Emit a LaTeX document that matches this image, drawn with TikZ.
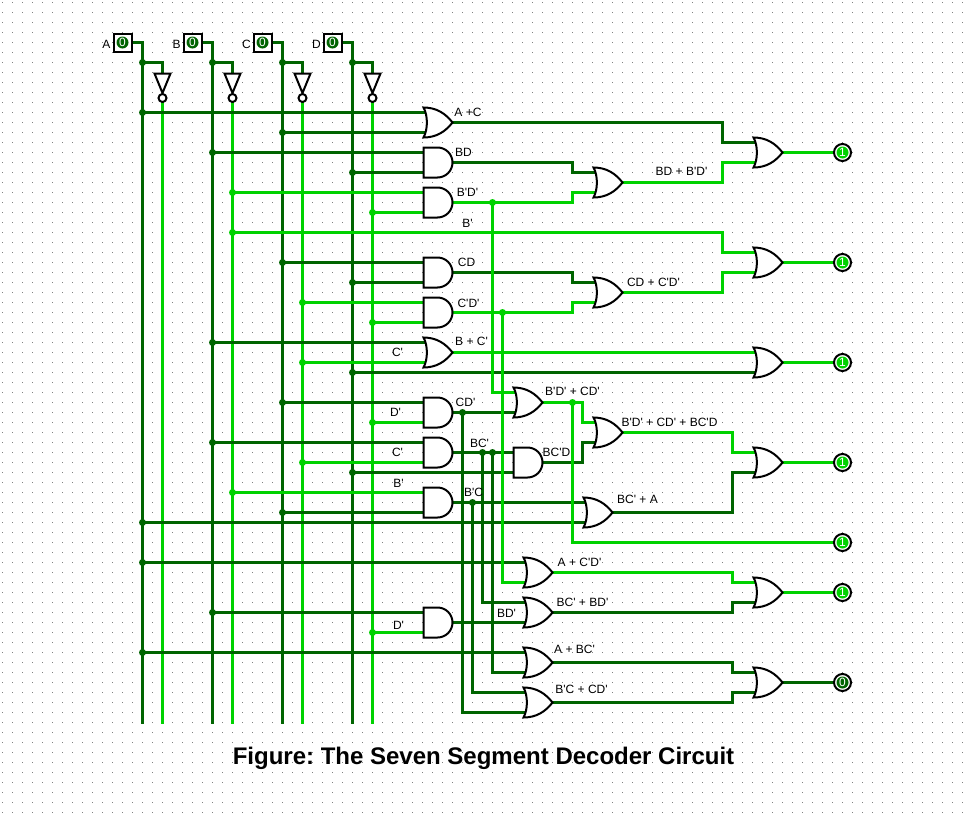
\documentclass[tikz,border=0pt]{standalone}
\usepackage{fontspec}
\usetikzlibrary{backgrounds}
\newfontfamily\logifont{Liberation Sans}
\definecolor{wirelow}{RGB}{0,100,0}
\definecolor{wirehigh}{RGB}{0,210,0}

\tikzset{
	lowwire/.style={color=wirelow,line width=3pt},
	highwire/.style={color=wirehigh,line width=3pt},
	gateline/.style={draw=black,fill=white,line width=2pt},
	gatebox/.style={rectangle,minimum width=30pt,minimum height=30pt,inner sep=0pt},
	lbl/.style={font=\logifont\fontsize{12}{14}\selectfont,inner sep=0pt,anchor=base},
	pinbox/.style={rectangle,draw=black,fill=white,line width=2pt,minimum size=18pt,inner sep=0pt},
	pinring/.style={circle,draw=black,fill=white,line width=2pt,minimum size=17pt,inner sep=0pt},
	pinval/.style={circle,fill=#1,text=white,minimum size=12pt,inner sep=0pt,font=\logifont\fontsize{12}{14}\selectfont}
}

% gates: name, x and y of the output
\newcommand{\gateand}[3]{
	\node[gatebox] (#1) at (#2-15,#3) {};
	\coordinate (#1a) at (#2-27,#3-10);
	\coordinate (#1b) at (#2-27,#3+10);
	\coordinate (#1o) at (#2,#3);
	\draw[gateline] (#2-29,#3-15) -- (#2-15,#3-15) arc (90:-90:15pt) -- (#2-29,#3+15) -- cycle;
}
\newcommand{\gateor}[3]{
	\node[gatebox] (#1) at (#2-15,#3) {};
	\coordinate (#1a) at (#2-27,#3-10);
	\coordinate (#1b) at (#2-27,#3+10);
	\coordinate (#1o) at (#2,#3);
	\draw[gateline] (#2-29,#3-15) .. controls (#2-16,#3-15) and (#2-7,#3-9) .. (#2,#3)
		.. controls (#2-7,#3+9) and (#2-16,#3+15) .. (#2-29,#3+15)
		.. controls (#2-24.5,#3+7) and (#2-24.5,#3-7) .. cycle;
}
\newcommand{\gatenot}[2]{
	\coordinate (#1i) at (#2,73);
	\coordinate (#1o) at (#2,101);
	\draw[gateline] (#2-8,73) -- (#2+8,73) -- (#2,92.5) -- cycle;
	\draw[gateline] (#2,97.5) circle (4pt);
}
% wires: style, then names
\newcommand{\jdot}[2]{\fill[#1] (#2) circle (3.5pt);}
\newcommand{\tap}[3]{\draw[#1] (#2 |- #3) -- (#3); \jdot{#1}{#2 |- #3}}
\newcommand{\elbow}[4]{\draw[#1] (#2) -- (#3 |- #2) -- (#3 |- #4) -- (#4);}

\begin{document}
\frenchspacing
\begin{tikzpicture}[x=1pt,y=-1pt]
	\useasboundingbox (-0.5,-0.5) rectangle (963.5,821.5);
	
	% inputs
	\foreach \nm/\x in {A/122,B/192,C/262,D/332}{
		\node[pinbox] (pin\nm) at (\x,42) {};
		\node[pinval=wirelow] (val\nm) at (\x,42) {0};
		\node[lbl] (lab\nm) at (\x-16,48) {\nm};
		\coordinate (rail\nm) at (\x+20,723.5);
		\coordinate (rail\nm n) at (\x+40,723.5);
		\coordinate (j\nm) at (\x+20,62);
		\gatenot{not\nm}{\x+40}
	}
	
	% seven outputs
	\foreach \nm/\y/\v/\c in {A/152/1/wirehigh,B/262/1/wirehigh,C/362/1/wirehigh,D/462/1/wirehigh,E/542/1/wirehigh,F/592/1/wirehigh,G/682/0/wirelow}{
		\node[pinring] (out\nm) at (842,\y) {};
		\node[pinval=\c] (outval\nm) at (842,\y) {\v};
	}
	
	\gateor{orAC}{452}{122}
	\gateand{andBD}{452}{162}
	\gateand{andBnDn}{452}{202}
	\gateor{orBD}{622}{182}
	\gateor{segA}{782}{152}
	\gateor{segB}{782}{262}
	\gateand{andCD}{452}{272}
	\gateand{andCnDn}{452}{312}
	\gateor{orCD}{622}{292}
	\gateor{orBCn}{452}{352}
	\gateor{segC}{782}{362}
	\gateand{andCDn}{452}{412}
	\gateor{orBDCD}{542}{402}
	\gateand{andBCn}{452}{452}
	\gateand{andBCnD}{542}{462}
	\gateor{orTri}{622}{432}
	\gateor{segD}{782}{462}
	\gateand{andBnC}{452}{502}
	\gateor{orBCnA}{612}{512}
	\gateor{orACD}{552}{572}
	\gateor{orBCBD}{552}{612}
	\gateand{andBDn}{452}{622}
	\gateor{segF}{782}{592}
	\gateor{orABC}{552}{662}
	\gateor{orBCCD}{552}{702}
	\gateor{segG}{782}{682}
	
	\coordinate (busL) at (572,0);
	\coordinate (busO) at (582,0);
	\coordinate (busM) at (722,0);
	\coordinate (busR) at (732,0);
	\coordinate (jBn) at (232,232);
	\coordinate (jBnDn) at (492,202);
	\coordinate (jCnDn) at (502,312);
	\coordinate (jCDn) at (462,412);
	\coordinate (jBCa) at (482,452);
	\coordinate (jBCb) at (492,452);
	\coordinate (jBnC) at (472,502);
	\coordinate (jSum) at (572,402);
	
	\begin{scope}[on background layer]
		\foreach \i in {0,...,96}
			\foreach \j in {0,...,81}
				\fill[black!50] (10*\i+1.5,10*\j+1.5) rectangle ++(1,1);
		
		% input rails
		\foreach \nm in {A,B,C,D}{
			\draw[lowwire] (pin\nm.east) -| (rail\nm);
			\draw[lowwire] (j\nm) -| (not\nm i);
			\jdot{lowwire}{j\nm}
			\draw[highwire] (not\nm o) -- (rail\nm n);
		}
		
		% rails into the gates
		\tap{lowwire}{railA}{orACa}
		\tap{lowwire}{railC}{orACb}
		\tap{lowwire}{railB}{andBDa}
		\tap{lowwire}{railD}{andBDb}
		\tap{highwire}{railBn}{andBnDna}
		\tap{highwire}{railDn}{andBnDnb}
		\tap{lowwire}{railC}{andCDa}
		\tap{lowwire}{railD}{andCDb}
		\tap{highwire}{railCn}{andCnDna}
		\tap{highwire}{railDn}{andCnDnb}
		\tap{lowwire}{railB}{orBCna}
		\tap{highwire}{railCn}{orBCnb}
		\tap{lowwire}{railD}{segCb}
		\tap{lowwire}{railC}{andCDna}
		\tap{highwire}{railDn}{andCDnb}
		\tap{lowwire}{railB}{andBCna}
		\tap{highwire}{railCn}{andBCnb}
		\tap{lowwire}{railD}{andBCnDb}
		\tap{highwire}{railBn}{andBnCa}
		\tap{lowwire}{railC}{andBnCb}
		\tap{lowwire}{railA}{orBCnAb}
		\tap{lowwire}{railA}{orACDa}
		\tap{lowwire}{railB}{andBDna}
		\tap{highwire}{railDn}{andBDnb}
		\tap{lowwire}{railA}{orABCa}
		
		% gate to gate
		\elbow{lowwire}{orACo}{busM}{segAa}
		\elbow{lowwire}{andBDo}{busL}{orBDa}
		\elbow{highwire}{andBnDno}{busL}{orBDb}
		\elbow{highwire}{orBDo}{busM}{segAb}
		\elbow{highwire}{jBn}{busM}{segBa}
		\jdot{highwire}{jBn}
		\elbow{lowwire}{andCDo}{busL}{orCDa}
		\elbow{highwire}{andCnDno}{busL}{orCDb}
		\elbow{highwire}{orCDo}{busM}{segBb}
		\draw[highwire] (orBCno) -- (segCa);
		\draw[lowwire] (andCDno) -- (orBDCDb);
		\draw[lowwire] (andBCno) -- (andBCnDa);
		\elbow{highwire}{orBDCDo}{busO}{orTria}
		\elbow{lowwire}{andBCnDo}{busO}{orTrib}
		\elbow{highwire}{orTrio}{busR}{segDa}
		\elbow{lowwire}{orBCnAo}{busR}{segDb}
		\draw[lowwire] (andBnCo) -- (orBCnAa);
		\draw[lowwire] (andBDno) -- (orBCBDb);
		\elbow{highwire}{orACDo}{busR}{segFa}
		\elbow{lowwire}{orBCBDo}{busR}{segFb}
		\elbow{lowwire}{orABCo}{busR}{segGa}
		\elbow{lowwire}{orBCCDo}{busR}{segGb}
		
		% branches going down
		\draw[highwire] (jBnDn) |- (orBDCDa);
		\jdot{highwire}{jBnDn}
		\draw[highwire] (jCnDn) |- (orACDb);
		\jdot{highwire}{jCnDn}
		\draw[lowwire] (jCDn) |- (orBCCDb);
		\jdot{lowwire}{jCDn}
		\draw[lowwire] (jBCa) |- (orBCBDa);
		\jdot{lowwire}{jBCa}
		\draw[lowwire] (jBCb) |- (orABCb);
		\jdot{lowwire}{jBCb}
		\draw[lowwire] (jBnC) |- (orBCCDa);
		\jdot{lowwire}{jBnC}
		\draw[highwire] (jSum) |- (outE);
		\jdot{highwire}{jSum}
		
		% into the output pins
		\draw[highwire] (segAo) -- (outA);
		\draw[highwire] (segBo) -- (outB);
		\draw[highwire] (segCo) -- (outC);
		\draw[highwire] (segDo) -- (outD);
		\draw[highwire] (segFo) -- (outF);
		\draw[lowwire] (segGo) -- (outG);
	\end{scope}
	
	\foreach \x/\y/\t [count=\n] in {467.5/112/A +C,463/152/BD,467/192/B'D',467/223/B',681/171/BD + B'D',
		466/262/CD,468/303/C'D',653/282/CD + C'D',471/341/B + C',397/352/C',395/412/D',465/402/CD',
		572/391/B'D' + CD',479/443/BC',397/452/C',556/452/BC'D,398/483/B',473/492/B'C,
		669/422/B'D' + CD' + BC'D,637/499/BC' + A,579/562/A + C'D',582/602/BC' + BD',506/613/BD',
		398/625/D',574/649/A + BC',581/689/B'C + CD'}
		\node[lbl] (txt\n) at (\x,\y+4) {\t};
	
	\node[font=\logifont\bfseries\fontsize{24}{28}\selectfont,inner sep=0pt,anchor=base] (title) at (483,764) {Figure: The Seven Segment Decoder Circuit};
\end{tikzpicture}
\end{document}
